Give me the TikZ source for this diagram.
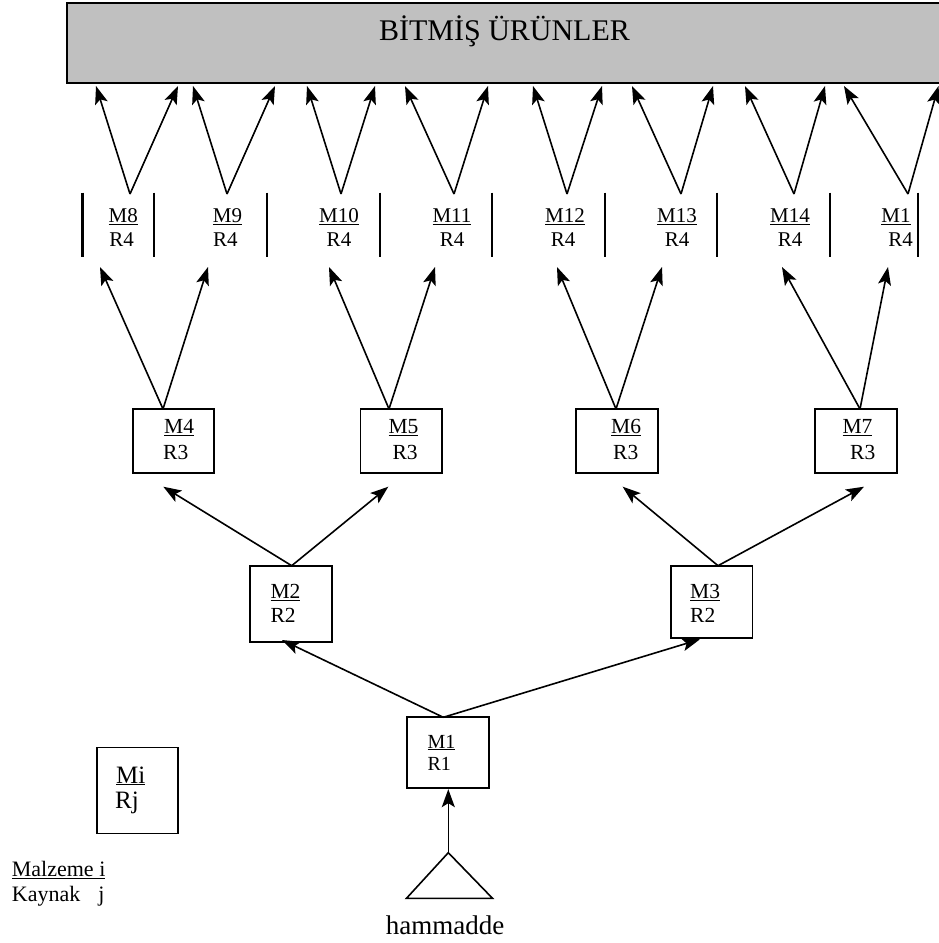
\documentclass[tikz,border=0pt]{standalone}
\usepackage{fontspec}
\setmainfont{Liberation Serif}
\usetikzlibrary{arrows.meta}
\begin{document}
\begin{tikzpicture}[x=1pt,y=-1pt,
  conn/.style={-{Stealth[length=18pt,width=13pt,inset=4pt]},line width=1.6pt},
  plain/.style={line width=1.6pt},
  matbox/.style={draw,line width=1.7pt,inner sep=0pt},
  lbl/.style={inner sep=0pt,font=\fontsize{21}{25}\selectfont},
  boxlbl/.style={inner sep=0pt,anchor=base west,font=\fontsize{21.5}{26}\selectfont},
  bar/.style={line width=2.4pt}]
\useasboundingbox (0,0) rectangle (938,943);

% finished products panel
\node[draw,line width=2.2pt,fill={rgb,255:red,192;green,192;blue,192},
      minimum width=880pt,minimum height=80pt,anchor=north west,inner sep=0pt]
      (bitmis) at (66,2) {};
\node[inner sep=0pt,anchor=base,font=\fontsize{30}{35}\selectfont]
      (baslik) at (504.5,40) {BİTMİŞ ÜRÜNLER};

% level 4 column separators
\foreach \x in {82.3,154,267,380,492,605,717,830,918}
  \draw[bar] (\x,192.7) -- (\x,256.7);

% level 4 labels
\foreach \n/\mx/\rx/\t in {8/123.3/121.7/M8,9/227.5/225.3/M9,10/339/339/M10,
    11/452/452/M11,12/565/563/M12,13/677/677/M13,14/790/790/M14,15/896/900.5/M1}{
  \node[lbl,anchor=base] (m\n) at (\mx,222.7) {\underline{\t}};
  \node[lbl,anchor=base] (r\n) at (\rx,246.7) {R4};
}

% level 4 to finished products
\foreach \n/\ax/\lx/\rx in {8/130/96/178,9/227/193/275,10/341/307/375,11/454/405/488,
    12/567/533/602,13/681/632/713,14/794/745/825,15/908/844/938.5}{
  \coordinate (a\n) at (\ax,194);
  \coordinate (tl\n) at (\lx,86);
  \coordinate (tr\n) at (\rx,86);
  \draw[conn] (a\n) -- (tl\n);
  \draw[conn] (a\n) -- (tr\n);
}

% level 3 boxes
\node[matbox,minimum width=81.6pt,minimum height=64pt] (m4) at (173.5,441) {};
\node[matbox,minimum width=81.6pt,minimum height=64pt] (m5) at (401.4,441) {};
\node[matbox,minimum width=82pt,minimum height=64pt] (m6) at (616.7,441) {};
\node[matbox,minimum width=81.7pt,minimum height=64pt] (m7) at (855.9,441) {};
\node[boxlbl] (m4a) at (164,433.3) {\underline{M4}};
\node[boxlbl] (m4b) at (163,459.3) {R3};
\node[boxlbl] (m5a) at (388.3,433.3) {\underline{M5}};
\node[boxlbl] (m5b) at (392.3,459.3) {R3};
\node[boxlbl] (m6a) at (611,433.3) {\underline{M6}};
\node[boxlbl] (m6b) at (613,459.3) {R3};
\node[boxlbl] (m7a) at (842.3,433.3) {\underline{M7}};
\node[boxlbl] (m7b) at (850,459.3) {R3};

\coordinate (p4) at (163,409);
\coordinate (p5) at (389,409);
\coordinate (p6) at (616,409);
\coordinate (p7) at (860,409);
\foreach \p/\l/\r in {4/100/208,5/329/435,6/557/662,7/782/888}{
  \coordinate (q\p l) at (\l,267);
  \coordinate (q\p r) at (\r,267);
  \draw[conn] (p\p) -- (q\p l);
  \draw[conn] (p\p) -- (q\p r);
}

% level 2 boxes
\node[matbox,minimum width=81.4pt,minimum height=76pt] (m2) at (291,603.7) {};
\node[matbox,minimum width=81.3pt,minimum height=72pt] (m3) at (711.7,601.7) {};
\node[boxlbl] (m2a) at (270.3,598.3) {\underline{M2}};
\node[boxlbl] (m2b) at (270.3,622.7) {R2};
\node[boxlbl] (m3a) at (690,598.3) {\underline{M3}};
\node[boxlbl] (m3b) at (690,622.7) {R2};

\coordinate (p2) at (291.7,565.7);
\coordinate (p3) at (718,565.7);
\coordinate (q2l) at (163.3,486.7);
\coordinate (q2r) at (388.3,486.7);
\coordinate (q3l) at (622.7,486.7);
\coordinate (q3r) at (864,486.7);
\draw[conn] (p2) -- (q2l);
\draw[conn] (p2) -- (q2r);
\draw[conn] (p3) -- (q3l);
\draw[conn] (p3) -- (q3r);

% level 1 box
\node[matbox,minimum width=82pt,minimum height=71pt] (m1) at (448.3,752.8) {};
\node[inner sep=0pt,anchor=base west,font=\fontsize{20}{24}\selectfont] (m1a) at (427.3,748) {\underline{M1}};
\node[inner sep=0pt,anchor=base west,font=\fontsize{20}{24}\selectfont] (m1b) at (427.3,770) {R1};
\coordinate (p1) at (443.3,717.3);
\coordinate (q1l) at (282,640);
\coordinate (q1r) at (700,639.3);
\draw[conn] (p1) -- (q1l);
\draw[conn] (p1) -- (q1r);

% raw material
\coordinate (ham) at (448.3,852.7);
\draw[plain,line join=miter] (ham) -- (492.5,898.3) -- (406.5,898.3) -- cycle;
\draw[conn] (ham) -- (m1.south);
\node[inner sep=0pt,anchor=base,font=\fontsize{27}{32}\selectfont] (hammadde) at (445,934) {hammadde};

% legend
\node[matbox,minimum width=81.6pt,minimum height=86pt] (mi) at (137.5,790.5) {};
\node[inner sep=0pt,anchor=base west,font=\fontsize{25}{29}\selectfont] (mia) at (116,783) {\underline{Mi}};
\node[inner sep=0pt,anchor=base west,font=\fontsize{25}{29}\selectfont] (mib) at (115,808) {Rj};
\node[inner sep=0pt,anchor=base west,font=\fontsize{22}{26}\selectfont] (lega) at (11.7,876.7) {\underline{Malzeme i}};
\node[inner sep=0pt,anchor=base west,font=\fontsize{22}{26}\selectfont] (legb) at (11.7,901.7) {Kaynak\hspace{18pt}j};
\end{tikzpicture}
\end{document}
